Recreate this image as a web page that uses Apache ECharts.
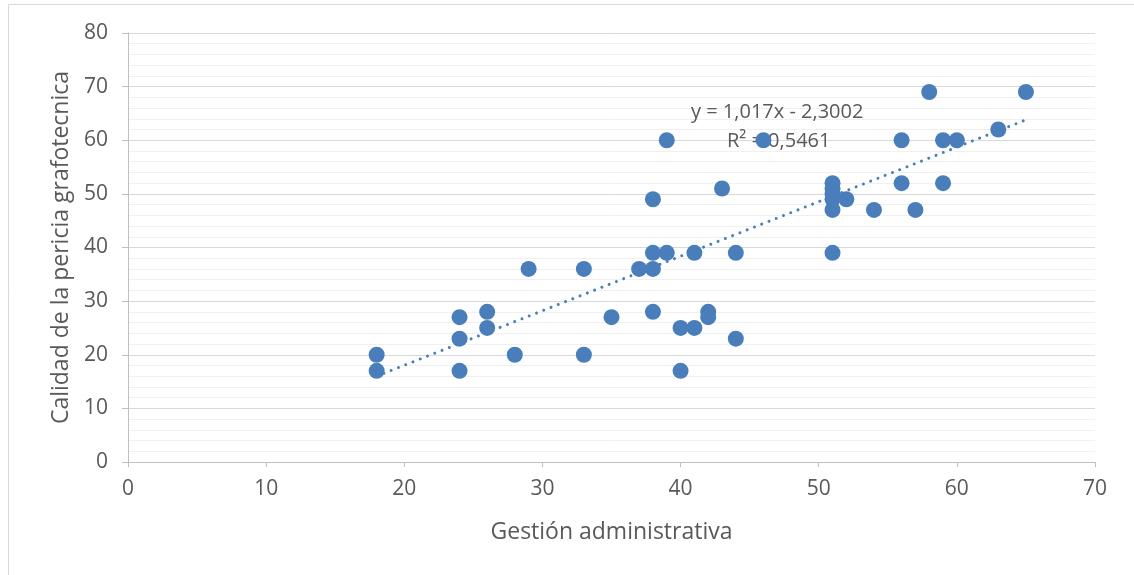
<!DOCTYPE html>
<html>
<head>
<meta charset="utf-8">
<script src="https://cdn.jsdelivr.net/npm/echarts@6/dist/echarts.min.js"></script>
<style>
html,body{margin:0;padding:0;background:#fff;}
#c{width:1134px;height:575px;}
</style>
</head>
<body>
<div id="c"></div>
<script>
// Data
const gestion = [18,18,24,24,24,26,26,28,29,33,33,35,37,38,38,38,38,39,39,40,40,41,41,42,42,43,44,44,46,51,51,51,51,51,51,52,54,56,56,57,58,59,59,60,63,65];
const calidad = [20,17,27,23,17,28,25,20,36,36,20,27,36,49,39,36,28,60,39,25,17,39,25,28,27,51,39,23,60,52,51,50,49,47,39,49,47,60,52,47,69,60,52,60,62,69];
const slope = 1.017;
const intercept = -2.3002;
const r2 = 0.5461;
const xTitle = 'Gestión administrativa';
const yTitle = 'Calidad de la pericia grafotecnica';
const eqText = 'y = 1,017x - 2,3002';
const r2Text = 'R² = 0,5461';

const points = gestion.map((g, i) => [g, calidad[i]]);
const xMin = Math.min(...gestion), xMax = Math.max(...gestion);
const trend = [[xMin, slope * xMin + intercept], [xMax, slope * xMax + intercept]];

const FONT = '"Open Sans", sans-serif';
const chart = echarts.init(document.getElementById('c'), null, {renderer: 'canvas'});
chart.setOption({
  animation: false,
  backgroundColor: '#ffffff',
  grid: {left: 128, right: 39, top: 33, bottom: 113, containLabel: false},
  xAxis: {
    type: 'value', min: 0, max: 70, interval: 10,
    name: xTitle, nameLocation: 'middle', nameGap: 59,
    nameTextStyle: {fontFamily: FONT, fontSize: 23, color: '#595959'},
    axisLine: {show: true, lineStyle: {color: '#bfbfbf', width: 1}},
    axisTick: {show: true, length: 5, lineStyle: {color: '#bfbfbf'}},
    axisLabel: {fontFamily: FONT, fontSize: 21, color: '#595959', margin: 17},
    splitLine: {show: false}
  },
  yAxis: {
    type: 'value', min: 0, max: 80, interval: 10,
    name: yTitle, nameLocation: 'middle', nameGap: 53,
    nameTextStyle: {fontFamily: FONT, fontSize: 23, color: '#595959'},
    axisLine: {show: true, lineStyle: {color: '#bfbfbf', width: 1}},
    axisTick: {show: true, length: 6, lineStyle: {color: '#bfbfbf'}},
    axisLabel: {fontFamily: FONT, fontSize: 21, color: '#595959', margin: 20},
    splitLine: {show: true, lineStyle: {color: '#d9d9d9', width: 1}},
    minorTick: {show: false, splitNumber: 5},
    minorSplitLine: {show: true, lineStyle: {color: '#f0f0f0', width: 1}}
  },
  graphic: [
    {type: 'rect', shape: {x: 8.5, y: 4.5, width: 1140, height: 600}, style: {fill: 'none', stroke: '#d9d9d9', lineWidth: 1}, silent: true, z: -1},
    {type: 'text', left: 691, top: 102, style: {text: eqText, fontFamily: FONT, fontSize: 20, fill: '#595959'}, z: 1},
    {type: 'text', left: 727, top: 131, style: {text: r2Text, fontFamily: FONT, fontSize: 20, fill: '#595959'}, z: 1}
  ],
  series: [
    {
      type: 'line', data: trend, symbol: 'none', silent: true, z: 3,
      lineStyle: {color: '#4A7EBB', width: 3, type: [0.01, 7.8], cap: 'round'}
    },
    {
      type: 'scatter', data: points, symbol: 'circle', symbolSize: 16, z: 4,
      itemStyle: {color: '#4A7EBB', opacity: 1}
    }
  ]
});
</script>
</body>
</html>
